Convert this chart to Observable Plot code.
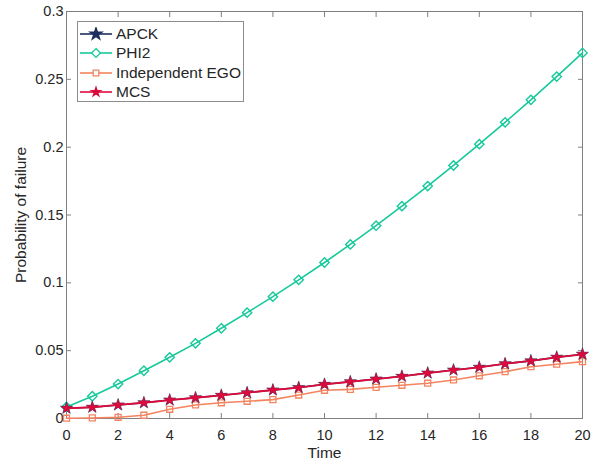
<!DOCTYPE html>
<html>
<head>
<meta charset="utf-8">
<script src="https://cdn.jsdelivr.net/npm/d3@7"></script>
<script src="https://cdn.jsdelivr.net/npm/@observablehq/plot@0.6"></script>
<style>
  html, body { margin: 0; padding: 0; background: #fff; }
  #wrap { position: relative; width: 604px; height: 466px; font-family: "Liberation Sans", Arial, sans-serif; }
  #legend { position: absolute; left: 77px; top: 21px; width: 167px; height: 81px; border: 1px solid #8c8c8c; background: #fff; box-sizing: border-box; padding-top: 2px; }
  .item { display: flex; align-items: center; height: 19.5px; font-size: 15.5px; color: #262626; }
  .item svg { margin-left: 2px; margin-right: 4px; }
</style>
</head>
<body>
<div id="wrap"><div id="chart"></div><div id="legend"></div></div>
<script>
const time = d3.range(0, 21);
const apck = [0.0076,0.0083,0.0100,0.0116,0.0136,0.0153,0.0171,0.0190,0.0210,0.0228,0.0252,0.0271,0.0291,0.0311,0.0335,0.0357,0.0378,0.0404,0.0425,0.0452,0.0474];
const phi2 = [0.0085,0.0164,0.0254,0.0352,0.0451,0.0554,0.0665,0.0780,0.0898,0.1022,0.1150,0.1283,0.1421,0.1565,0.1713,0.1865,0.2022,0.2183,0.2349,0.2520,0.2695];
const ego  = [0.0002,0.0004,0.0009,0.0024,0.0068,0.0100,0.0116,0.0127,0.0139,0.0173,0.0208,0.0215,0.0230,0.0245,0.0260,0.0284,0.0315,0.0345,0.0382,0.0400,0.0419];
const mcs  = [0.0075,0.0083,0.0100,0.0116,0.0136,0.0153,0.0171,0.0190,0.0210,0.0227,0.0252,0.0271,0.0291,0.0311,0.0335,0.0357,0.0377,0.0404,0.0424,0.0451,0.0473];
const xTicks = [0,2,4,6,8,10,12,14,16,18,20];
const yTicks = [0,0.05,0.1,0.15,0.2,0.25,0.3];
const seriesNames = ["APCK","PHI2","Independent EGO","MCS"];
const colors = {"APCK":"#1c2f5e","PHI2":"#16c99a","Independent EGO":"#f3845f","MCS":"#dc0b3c"};

const rows = (name, vals) => time.map((t, i) => ({t, v: vals[i], s: name}));
const dA = rows("APCK", apck), dP = rows("PHI2", phi2), dE = rows("Independent EGO", ego), dM = rows("MCS", mcs);

const fmt = d => String(+d.toFixed(2));
const axisColor = "#808080";
const font = '"Liberation Sans", Arial, sans-serif';

const chart = Plot.plot({
  width: 604, height: 466,
  marginLeft: 66, marginRight: 22, marginTop: 11, marginBottom: 48,
  style: {fontFamily: font, fontSize: "14.5px", color: "#262626", background: "#fff"},
  x: {domain: [0, 20]},
  y: {domain: [0, 0.3]},
  marks: [
    Plot.frame({stroke: axisColor}),
    Plot.axisX(xTicks, {anchor: "bottom", tickSize: -5, tickPadding: 16, tickFormat: fmt, stroke: axisColor, fill: "#262626", fontSize: 14.5, label: null}),
    Plot.axisX(xTicks, {anchor: "top", tickSize: -5, tickFormat: () => "", stroke: axisColor, label: null}),
    Plot.axisY(yTicks, {anchor: "left", tickSize: -5, tickPadding: 8, tickFormat: fmt, stroke: axisColor, fill: "#262626", fontSize: 14.5, label: null}),
    Plot.axisY(yTicks, {anchor: "right", tickSize: -5, tickFormat: () => "", stroke: axisColor, label: null}),
    Plot.text(["Time"], {frameAnchor: "bottom", dy: 39, fontSize: 15.5, fill: "#262626"}),
    Plot.text(["Probability of failure"], {frameAnchor: "left", textAnchor: "middle", dx: -45, rotate: -90, fontSize: 15.5, fill: "#262626"}),
    Plot.line(dP, {x: "t", y: "v", stroke: colors["PHI2"], strokeWidth: 1.6}),
    Plot.dot(dP, {x: "t", y: "v", symbol: "diamond2", r: 4.2, stroke: colors["PHI2"], fill: "none", strokeWidth: 1.4}),
    Plot.line(dE, {x: "t", y: "v", stroke: colors["Independent EGO"], strokeWidth: 1.6}),
    Plot.dot(dE, {x: "t", y: "v", symbol: "square2", r: 3.8, stroke: colors["Independent EGO"], fill: "none", strokeWidth: 1.3}),
    Plot.line(dA, {x: "t", y: "v", stroke: colors["APCK"], strokeWidth: 1.6}),
    Plot.dot(dA, {x: "t", y: "v", symbol: "star", r: 3.9, fill: colors["APCK"], stroke: colors["APCK"], strokeWidth: 0.5}),
    Plot.line(dM, {x: "t", y: "v", stroke: colors["MCS"], strokeWidth: 1.8}),
    Plot.dot(dM, {x: "t", y: "v", symbol: "star", r: 3.3, fill: colors["MCS"], stroke: colors["MCS"], strokeWidth: 0.5})
  ]
});
document.getElementById("chart").appendChild(chart);

// legend
const sym = {"APCK": d3.symbol(d3.symbolStar, 45)(), "PHI2": d3.symbol(d3.symbolDiamond2, 50)(), "Independent EGO": d3.symbol(d3.symbolSquare2, 40)(), "MCS": d3.symbol(d3.symbolStar, 25)()};
const filled = {"APCK": true, "PHI2": false, "Independent EGO": false, "MCS": true};
const leg = document.getElementById("legend");
for (const name of seriesNames) {
  const c = colors[name];
  const div = document.createElement("div");
  div.className = "item";
  div.innerHTML = `<svg width="32" height="14"><line x1="0" x2="32" y1="7" y2="7" stroke="${c}" stroke-width="1.6"/><path transform="translate(16,7)" d="${sym[name]}" fill="${filled[name] ? c : "#fff"}" stroke="${c}" stroke-width="1.3"/></svg><span>${name}</span>`;
  leg.appendChild(div);
}
</script>
</body>
</html>
